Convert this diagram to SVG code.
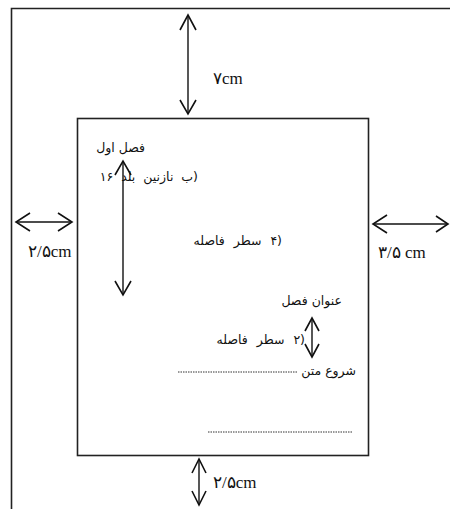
<svg xmlns="http://www.w3.org/2000/svg" width="450" height="509" viewBox="0 0 450 509">
<style>
.frame{fill:none;stroke:#222;stroke-width:1.6}
.ln{fill:none;stroke:#111;stroke-width:1.4}
.hd{fill:none;stroke:#111;stroke-width:1.6;stroke-linejoin:miter}
.cm{font-family:"Liberation Serif","DejaVu Serif",serif;font-size:17px;fill:#111}
.fa{font-family:"DejaVu Sans","Noto Sans",sans-serif;font-size:12.5px;fill:#111}
.dot{stroke:#333;stroke-width:1;stroke-dasharray:1.5 1}
</style>
<rect width="450" height="509" fill="#fff"/>
<g id="page">
<path class="frame" d="M11.5 509 V8.5 H450"/>
<rect class="frame" x="77.5" y="118.5" width="291" height="337"/>
</g>
<g id="connectors">
<line class="ln" x1="188" y1="15" x2="188" y2="114"/>
<path class="hd" d="M180 30 L188 15 L196 30 M180 100 L188 114 L196 100"/>
<line class="ln" x1="16" y1="222" x2="72" y2="222"/>
<path class="hd" d="M30 213 L16 222 L30 231 M58 213 L72 222 L58 231"/>
<line class="ln" x1="373" y1="224" x2="448" y2="224"/>
<path class="hd" d="M387 215 L373 224 L387 233 M436 216 L448 224 L436 232"/>
<line class="ln" x1="199" y1="459" x2="199" y2="505"/>
<path class="hd" d="M192 473 L199 459 L206 473 M192 491 L199 505 L206 491"/>
<line class="ln" x1="123" y1="161" x2="123" y2="295"/>
<path class="hd" d="M115 175 L123 161 L131 175 M115 281 L123 295 L131 281"/>
<line class="ln" x1="312" y1="318" x2="312" y2="357"/>
<path class="hd" d="M305 331 L312 318 L319 331 M305 344 L312 357 L319 344"/>
<line class="dot" x1="178" y1="372" x2="298" y2="372"/>
<line class="dot" x1="208" y1="432" x2="352" y2="432"/>
</g>
<g id="labels">
<text class="cm" x="213" y="84" font-size="20">۷cm</text>
<text class="cm" x="28" y="257">۲/۵cm</text>
<text class="cm" x="378" y="258">۳/۵ cm</text>
<text class="cm" x="213" y="488">۲/۵cm</text>
<text class="fa" x="145" y="152" direction="rtl">فصل اول</text>
<text class="fa" x="198" y="181" direction="rtl" word-spacing="4">(ب نازنین بلد ۱۶</text>
<text class="fa" x="282" y="245" direction="rtl" word-spacing="5">(۴ سطر فاصله</text>
<text class="fa" x="342" y="305" direction="rtl">عنوان فصل</text>
<text class="fa" x="305" y="344" direction="rtl" word-spacing="5">(۲ سطر فاصله</text>
<text class="fa" x="356" y="375" direction="rtl">شروع متن</text>
</g>
</svg>
